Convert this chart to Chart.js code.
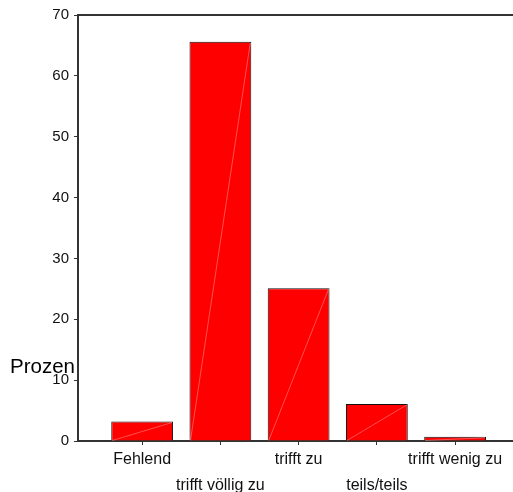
<!DOCTYPE html>
<html>
<head>
<meta charset="utf-8">
<script src="https://cdn.jsdelivr.net/npm/chart.js@4"></script>
<style>
  html, body { margin: 0; padding: 0; background: #fff; }
</style>
</head>
<body>
<canvas id="chart" width="513" height="492"></canvas>
<script>
// Antworten (Kategorien) und Prozentwerte
let kategorien = ["Fehlend", "trifft völlig zu", "trifft zu", "teils/teils", "trifft wenig zu"];
let prozent = [3.2, 65.6, 25.1, 6.1, 0.7];
let yTicks = [0, 10, 20, 30, 40, 50, 60, 70];

let punkte = kategorien.map((k, i) => ({ x: i, y: prozent[i] }));

// weisse Diagonale in jedem Balken + obere Linie + "Prozen"
const extras = {
  id: "extras",
  afterDatasetsDraw(chart) {
    const ctx = chart.ctx;
    const meta = chart.getDatasetMeta(0);
    ctx.save();
    ctx.strokeStyle = "rgba(255,255,255,0.45)";
    ctx.lineWidth = 0.7;
    meta.data.forEach(bar => {
      const p = bar.getProps(["x", "y", "base", "width"], true);
      ctx.beginPath();
      ctx.moveTo(p.x - p.width / 2 + 1, p.base);
      ctx.lineTo(p.x + p.width / 2 - 1, p.y + 1);
      ctx.stroke();
    });
    ctx.restore();
  },
  afterDraw(chart) {
    const ctx = chart.ctx;
    const a = chart.chartArea;
    ctx.save();
    ctx.strokeStyle = "#333";
    ctx.lineWidth = 2;
    ctx.beginPath();
    ctx.moveTo(a.left, a.top);
    ctx.lineTo(chart.width, a.top);
    ctx.stroke();
    ctx.fillStyle = "#000";
    ctx.font = "20.5px 'Liberation Sans', Arial, sans-serif";
    ctx.textBaseline = "middle";
    ctx.fillText("Prozen", 10, 367);
    ctx.restore();
  }
};

new Chart("chart", {
  type: "bar",
  data: {
    datasets: [{
      data: punkte,
      backgroundColor: "#ff0000",
      borderColor: "#111",
      borderWidth: 1,
      barPercentage: 0.79,
      categoryPercentage: 1
    }]
  },
  plugins: [extras],
  options: {
    responsive: false,
    animation: false,
    layout: { padding: { top: 15, right: 0, left: 0, bottom: 0 } },
    plugins: {
      legend: { display: false },
      tooltip: { enabled: false }
    },
    scales: {
      x: {
        type: "linear",
        min: -0.82,
        max: 4.74,
        offset: false,
        afterBuildTicks: scale => {
          scale.ticks = kategorien.map((k, i) => ({ value: i }));
        },
        afterFit: scale => { scale.height = 51; },
        grid: { drawOnChartArea: false, offset: false, tickLength: 4, color: "#333" },
        border: { color: "#333", width: 2 },
        ticks: {
          autoSkip: false,
          maxRotation: 0,
          padding: 1,
          color: "#111",
          font: { family: "'Liberation Sans', Arial, sans-serif", size: 16, lineHeight: 1.65 },
          callback: v => (v % 2 === 0 ? [kategorien[v]] : ["", kategorien[v]])
        }
      },
      y: {
        min: 0,
        max: 70,
        afterBuildTicks: scale => {
          scale.ticks = yTicks.map(v => ({ value: v }));
        },
        afterFit: scale => { scale.width = 78; },
        grid: { drawOnChartArea: false, tickLength: 4, color: "#333" },
        border: { color: "#333", width: 2 },
        ticks: {
          padding: 5,
          color: "#111",
          font: { family: "'Liberation Sans', Arial, sans-serif", size: 15 }
        }
      }
    }
  }
});
</script>
</body>
</html>
